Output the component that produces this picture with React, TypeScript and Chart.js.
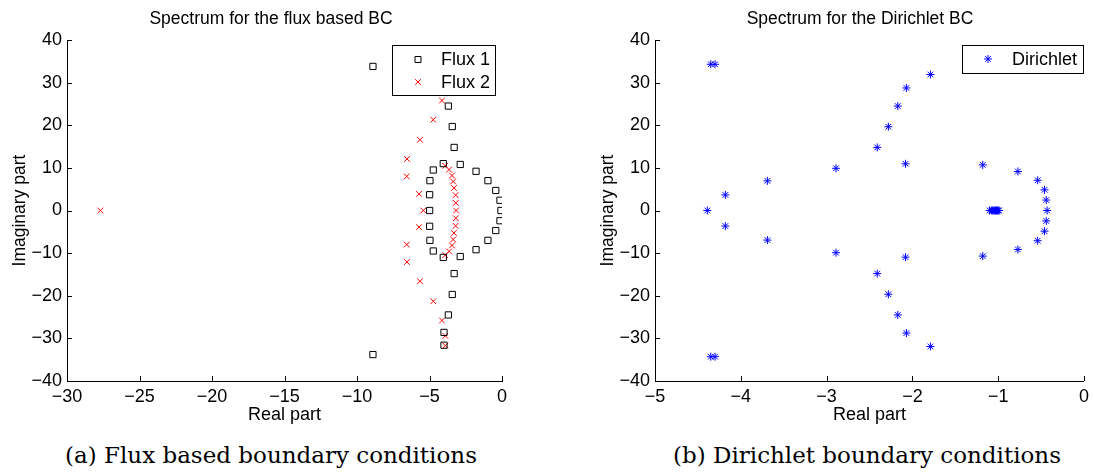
import React, { useEffect, useRef } from 'react';
import { Chart, registerables } from 'chart.js';

Chart.register(...registerables);

// ---------------- data ----------------
const flux1Re = [-8.9, -4.0, -4.0, -3.7, -3.43, -3.3, -4.05, -2.88, -4.74, -1.79, -4.97, -0.97, -0.43, -4.99, -0.14, -0.07,
  -4.99, -0.14, -4.99, -0.43, -0.97, -4.97, -1.79, -4.74, -2.88, -4.05, -3.3, -3.43, -3.7, -4.0, -4.0, -8.9];
const flux1Im = [33.8, 31.6, 28.6, 24.5, 19.7, 14.8, 11.0, 10.8, 9.5, 9.2, 7.0, 7.0, 4.7, 3.7, 2.4, 0,
  0, -2.4, -3.7, -4.7, -7.0, -7.0, -9.2, -9.5, -10.8, -11.0, -14.8, -19.7, -24.5, -28.6, -31.6, -33.8];

const flux2Re = [-27.7, -3.91, -3.91, -4.14, -4.74, -5.66, -6.55, -6.57, -5.72, -5.43, -5.72, -6.57, -6.55, -5.66, -4.74, -4.14, -3.91, -3.91,
  -3.92, -3.65, -3.45, -3.37, -3.31, -3.2, -3.19, -3.17, -3.19, -3.2, -3.31, -3.37, -3.45, -3.65, -3.92];
const flux2Im = [0, 31.7, 29.4, 25.8, 21.3, 16.6, 12.1, 8.0, 3.9, 0, -3.9, -8.0, -12.1, -16.6, -21.3, -25.8, -29.4, -31.7,
  10.5, 9.6, 8.2, 6.8, 5.3, 3.6, 1.8, 0, -1.8, -3.6, -5.3, -6.8, -8.2, -9.6, -10.5];

const dirRe = [-4.35, -4.30, -1.79, -2.07, -2.17, -2.28, -2.41, -2.08, -1.18, -2.89, -0.77, -0.54, -3.69, -0.46, -4.18, -0.44,
  -4.39, -0.43, -1.10, -1.08, -1.065, -1.05, -1.04, -1.03, -1.02, -1.01, -1.00, -0.99,
  -0.44, -4.18, -0.46, -3.69, -0.54, -0.77, -2.89, -1.18, -2.08, -2.41, -2.28, -2.17, -2.07, -1.79, -4.30, -4.35];
const dirIm = [34.3, 34.3, 31.9, 28.75, 24.5, 19.65, 14.8, 10.95, 10.7, 9.9, 9.15, 7.1, 6.95, 4.85, 3.65, 2.45,
  0, 0, 0, 0, 0, 0, 0, 0, 0, 0, 0, 0,
  -2.45, -3.65, -4.85, -6.95, -7.1, -9.15, -9.9, -10.7, -10.95, -14.8, -19.65, -24.5, -28.75, -31.9, -34.3, -34.3];

const xTicksLeft = [-30, -25, -20, -15, -10, -5, 0];
const xTicksRight = [-5, -4, -3, -2, -1, 0];
const yTicks = [-40, -30, -20, -10, 0, 10, 20, 30, 40];

const titleLeft = 'Spectrum for the flux based BC';
const titleRight = 'Spectrum for the Dirichlet BC';
const xLabel = 'Real part';
const yLabel = 'Imaginary part';
const captionLeft = '(a) Flux based boundary conditions';
const captionRight = '(b) Dirichlet boundary conditions';

// ---------------- styling ----------------
const FONT = "'Liberation Sans', Arial, Helvetica, sans-serif";
const CANVAS_W = 547;
const CANVAS_H = 440;

const toPts = (re: number[], im: number[]) => re.map((x, i) => ({ x, y: im[i] }));
const fmt = (v: number | string) => String(v).replace('-', '\u2212');

function drawMarker(ctx: CanvasRenderingContext2D, style: string, x: number, y: number, color: string) {
  ctx.save();
  ctx.strokeStyle = color;
  ctx.lineWidth = 1;
  ctx.beginPath();
  if (style === 'rect') {
    ctx.rect(x - 3, y - 3, 6, 6);
  } else if (style === 'crossRot') {
    const d = 2.8;
    ctx.moveTo(x - d, y - d); ctx.lineTo(x + d, y + d);
    ctx.moveTo(x - d, y + d); ctx.lineTo(x + d, y - d);
  } else {
    const r = 4, d = 2.8;
    ctx.moveTo(x - r, y); ctx.lineTo(x + r, y);
    ctx.moveTo(x, y - r); ctx.lineTo(x, y + r);
    ctx.moveTo(x - d, y - d); ctx.lineTo(x + d, y + d);
    ctx.moveTo(x - d, y + d); ctx.lineTo(x + d, y - d);
  }
  ctx.stroke();
  ctx.restore();
}

const inwardTicks = {
  id: 'inwardTicks',
  afterDatasetsDraw(chart: any) {
    const { ctx, chartArea, scales } = chart;
    ctx.save();
    ctx.strokeStyle = '#000';
    ctx.lineWidth = 1;
    ctx.beginPath();
    scales.x.ticks.forEach((t: any) => {
      const px = Math.round(scales.x.getPixelForValue(t.value)) + 0.5;
      ctx.moveTo(px, chartArea.bottom);
      ctx.lineTo(px, chartArea.bottom - 5);
    });
    scales.y.ticks.forEach((t: any) => {
      const py = Math.round(scales.y.getPixelForValue(t.value)) + 0.5;
      ctx.moveTo(chartArea.left, py);
      ctx.lineTo(chartArea.left + 5, py);
    });
    ctx.stroke();
    ctx.restore();
  },
};

function titlePlugin(text: string, x: number) {
  return {
    id: 'panelTitle',
    afterDraw(chart: any) {
      const ctx = chart.ctx;
      ctx.save();
      ctx.fillStyle = '#000';
      ctx.font = `17.5px ${FONT}`;
      ctx.textAlign = 'center';
      ctx.textBaseline = 'middle';
      ctx.fillText(text, x, 19);
      ctx.restore();
    },
  };
}

function legendPlugin(box: { x: number; y: number; w: number; h: number; markerDx: number; textDx: number; rowTop: number; rowGap: number }) {
  return {
    id: 'boxLegend',
    afterDraw(chart: any) {
      const ctx = chart.ctx;
      ctx.save();
      ctx.fillStyle = '#fff';
      ctx.fillRect(box.x, box.y, box.w, box.h);
      ctx.strokeStyle = '#000';
      ctx.lineWidth = 1;
      ctx.strokeRect(box.x + 0.5, box.y + 0.5, box.w, box.h);
      chart.data.datasets.forEach((ds: any, i: number) => {
        const cy = box.y + box.rowTop + i * box.rowGap;
        drawMarker(ctx, ds.pointStyle, box.x + box.markerDx, cy, ds.borderColor);
        ctx.fillStyle = '#000';
        ctx.font = `18px ${FONT}`;
        ctx.textAlign = 'left';
        ctx.textBaseline = 'middle';
        ctx.fillText(ds.label, box.x + box.textDx, cy + 1);
      });
      ctx.restore();
    },
  };
}

function buildConfig(p: {
  datasets: any[];
  xMin: number; xMax: number; xTicks: number[];
  yAxisWidth: number; padRight: number;
  title: string; titleX: number;
  legend: any;
}) {
  const tickFont = { family: FONT, size: 18 };
  return {
    type: 'scatter',
    data: { datasets: p.datasets },
    options: {
      animation: false,
      responsive: false,
      events: [],
      layout: { padding: { top: 40, right: p.padRight, bottom: 9, left: 0 } },
      plugins: { legend: { display: false }, tooltip: { enabled: false }, title: { display: false } },
      scales: {
        x: {
          type: 'linear',
          min: p.xMin,
          max: p.xMax,
          afterBuildTicks: (s: any) => { s.ticks = p.xTicks.map((v) => ({ value: v })); },
          afterFit: (s: any) => { s.height = 50; },
          grid: { display: false, drawTicks: false },
          border: { display: true, color: '#000', width: 1 },
          ticks: { font: tickFont, color: '#000', padding: 5, autoSkip: false, maxRotation: 0, callback: (v: any) => fmt(v) },
          title: { display: true, text: xLabel, font: tickFont, color: '#000', padding: { top: 0, bottom: 5 } },
        },
        y: {
          type: 'linear',
          min: -40,
          max: 40,
          afterBuildTicks: (s: any) => { s.ticks = yTicks.map((v) => ({ value: v })); },
          afterFit: (s: any) => { s.width = p.yAxisWidth; },
          grid: { display: false, drawTicks: false },
          border: { display: true, color: '#000', width: 1 },
          ticks: { font: tickFont, color: '#000', padding: 5, autoSkip: false, callback: (v: any) => fmt(v) },
          title: { display: true, text: yLabel, font: { family: FONT, size: 17.5 }, color: '#000', padding: { top: p.yAxisWidth - 57, bottom: 0 } },
        },
      },
    },
    plugins: [inwardTicks, titlePlugin(p.title, p.titleX), legendPlugin(p.legend)],
  } as any;
}

const leftConfig = () => buildConfig({
  datasets: [
    { label: 'Flux 1', data: toPts(flux1Re, flux1Im), pointStyle: 'rect', pointRadius: 4.4, borderColor: '#000000', backgroundColor: 'rgba(0,0,0,0)', borderWidth: 1 },
    { label: 'Flux 2', data: toPts(flux2Re, flux2Im), pointStyle: 'crossRot', pointRadius: 4, borderColor: '#ff0000', backgroundColor: '#ff0000', borderWidth: 1 },
  ],
  xMin: -30, xMax: 0, xTicks: xTicksLeft,
  yAxisWidth: 67, padRight: 45,
  title: titleLeft, titleX: 271,
  legend: { x: 392, y: 45, w: 103, h: 50, markerDx: 26, textDx: 49, rowTop: 14.5, rowGap: 22.5 },
});

const rightConfig = () => buildConfig({
  datasets: [
    { label: 'Dirichlet', data: toPts(dirRe, dirIm), pointStyle: 'star', pointRadius: 4, borderColor: '#0000ff', backgroundColor: '#0000ff', borderWidth: 1 },
  ],
  xMin: -5, xMax: 0, xTicks: xTicksRight,
  yAxisWidth: 108, padRight: 4,
  title: titleRight, titleX: 313,
  legend: { x: 415, y: 45, w: 121, h: 28, markerDx: 26, textDx: 50, rowTop: 14, rowGap: 22.5 },
});

function Panel({ make, left }: { make: () => any; left: number }) {
  const ref = useRef<HTMLCanvasElement>(null);
  useEffect(() => {
    const chart = new Chart(ref.current as HTMLCanvasElement, make());
    return () => chart.destroy();
  }, []);
  return (
    <canvas
      ref={ref}
      width={CANVAS_W}
      height={CANVAS_H}
      style={{ position: 'absolute', left, top: 0, width: CANVAS_W, height: CANVAS_H }}
    />
  );
}

const captionStyle = (cx: number): React.CSSProperties => ({
  position: 'absolute',
  left: cx,
  top: 444,
  transform: 'translateX(-50%)',
  whiteSpace: 'nowrap',
  fontFamily: "'DejaVu Serif', 'Liberation Serif', serif",
  fontSize: 23,
  lineHeight: '23px',
  color: '#000',
});

export default function App() {
  return (
    <div style={{ position: 'absolute', left: 0, top: 0, width: 1094, height: 473, background: '#fff', overflow: 'hidden' }}>
      <Panel make={leftConfig} left={0} />
      <Panel make={rightConfig} left={547} />
      <div style={captionStyle(271)}>{captionLeft}</div>
      <div style={captionStyle(867)}>{captionRight}</div>
    </div>
  );
}
